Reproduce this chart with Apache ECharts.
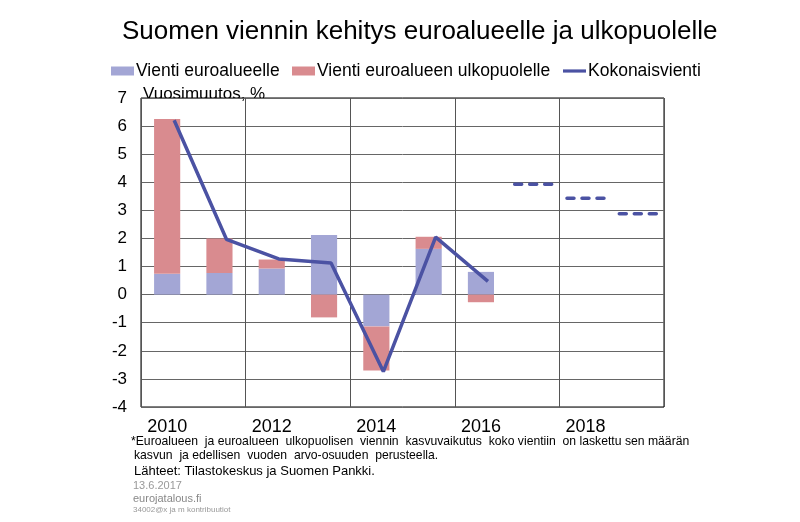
<!DOCTYPE html>
<html>
<head>
<meta charset="utf-8">
<script src="https://cdn.jsdelivr.net/npm/echarts@6/dist/echarts.min.js"></script>
<style>
html,body{margin:0;padding:0;background:#fff;}
#chart{width:800px;height:522px;}
</style>
</head>
<body>
<div id="chart"></div>
<script>
const years = ['2010','2011','2012','2013','2014','2015','2016','2017','2018','2019'];
const euroArea = [0.74, 0.77, 0.93, 2.12, -1.13, 1.63, 0.81, null, null, null];
const outsideEuro = [5.51, 1.23, 0.32, -0.81, -1.57, 0.43, -0.27, null, null, null];
const totalExports = [6.21, 1.97, 1.27, 1.13, -2.74, 2.05, 0.47, null, null, null];
const forecast = [null, null, null, null, null, null, null, 3.93, 3.43, 2.88];
const yMin = -4, yMax = 7, yStep = 1;

const FONT = 'Liberation Sans, Arial, sans-serif';
const forecastData = forecast.map((v, i) => v == null ? null : [i, v]).filter(d => d);

function legendAt(left, item) {
  return {
    left: left, top: 62, padding: 0,
    itemWidth: 23, itemHeight: 9,
    symbolKeepAspect: true,
    textStyle: { fontSize: 17.5, color: '#000', fontFamily: FONT, padding: [0, 0, 0, -3] },
    data: [item]
  };
}

const chart = echarts.init(document.getElementById('chart'));
chart.setOption({
  backgroundColor: '#fff',
  animation: false,
  textStyle: { fontFamily: FONT },
  legend: [
    legendAt(111, { name: 'Vienti euroalueelle', icon: 'rect' }),
    legendAt(292, { name: 'Vienti euroalueen ulkopuolelle', icon: 'rect' }),
    legendAt(563, { name: 'Kokonaisvienti', icon: 'path://M0,0 H23 V3.2 H0 Z', itemStyle: { color: '#4b52a3' } })
  ],
  grid: [
    { left: 141, right: 136, top: 98, bottom: 115, show: true, borderColor: '#000', borderWidth: 1, backgroundColor: 'transparent' },
    { left: 148, right: 129, top: 98, bottom: 115, show: false }
  ],
  xAxis: [
    {
      type: 'category', data: years, gridIndex: 0,
      axisLine: { show: false },
      axisTick: { show: false, interval: 1 },
      axisLabel: { interval: 1, fontSize: 18, color: '#000', margin: 11, fontFamily: FONT },
      splitLine: { show: true, interval: 1, lineStyle: { color: '#555', width: 1 } }
    },
    {
      type: 'category', data: years, gridIndex: 1, show: false
    }
  ],
  yAxis: [
    {
      type: 'value', gridIndex: 0, min: yMin, max: yMax, interval: yStep,
      axisLine: { show: false }, axisTick: { show: false },
      axisLabel: { fontSize: 17, color: '#000', margin: 14, fontFamily: FONT },
      splitLine: { show: true, lineStyle: { color: '#666', width: 1 } }
    },
    { type: 'value', gridIndex: 1, min: yMin, max: yMax, interval: yStep, show: false, splitLine: { show: false } }
  ],
  series: [
    {
      name: 'Vienti euroalueelle', type: 'bar', stack: 'vienti', data: euroArea,
      barWidth: '50%', itemStyle: { color: '#a3a6d5' }
    },
    {
      name: 'Vienti euroalueen ulkopuolelle', type: 'bar', stack: 'vienti', data: outsideEuro,
      barWidth: '50%', itemStyle: { color: '#d98b8f' }
    },
    {
      name: 'Kokonaisvienti', type: 'line', data: totalExports, xAxisIndex: 1, yAxisIndex: 1,
      symbol: 'none', lineStyle: { color: '#4b52a3', width: 3.5 }, itemStyle: { color: '#4b52a3' }, z: 5
    },
    {
      name: 'Ennuste', type: 'custom', data: forecastData, encode: { x: 0, y: 1 }, z: 5,
      renderItem: function (params, api) {
        const p = api.coord([api.value(0), api.value(1)]);
        const w = api.size([1, 0])[0] * 0.71;
        return {
          type: 'line',
          shape: { x1: p[0] - w / 2, y1: p[1], x2: p[0] + w / 2, y2: p[1] },
          style: { stroke: '#4b52a3', lineWidth: 3.5, lineDash: [7, 8], lineCap: 'round' }
        };
      }
    }
  ],
  graphic: [
    { type: 'text', left: 122, top: 19, style: { text: 'Suomen viennin kehitys euroalueelle ja ulkopuolelle', font: '26px ' + FONT, fill: '#000' } },
    { type: 'text', x: 143, y: 94, style: { text: 'Vuosimuutos, %', font: '17px ' + FONT, fill: '#000', verticalAlign: 'middle' } },
    { type: 'text', x: 131, y: 442, style: { text: '*Euroalueen  ja euroalueen  ulkopuolisen  viennin  kasvuvaikutus  koko vientiin  on laskettu sen määrän', font: '12.2px ' + FONT, fill: '#000', verticalAlign: 'middle' } },
    { type: 'text', x: 134, y: 456, style: { text: 'kasvun  ja edellisen  vuoden  arvo-osuuden  perusteella.', font: '12.2px ' + FONT, fill: '#000', verticalAlign: 'middle' } },
    { type: 'text', x: 134, y: 471, style: { text: 'Lähteet: Tilastokeskus ja Suomen Pankki.', font: '13px ' + FONT, fill: '#000', verticalAlign: 'middle' } },
    { type: 'text', x: 133, y: 486, style: { text: '13.6.2017', font: '11px ' + FONT, fill: '#999', verticalAlign: 'middle' } },
    { type: 'text', x: 133, y: 499, style: { text: 'eurojatalous.fi', font: '11px ' + FONT, fill: '#888', verticalAlign: 'middle' } },
    { type: 'text', x: 133, y: 510, style: { text: '34002@x ja m kontribuutiot', font: '8px ' + FONT, fill: '#999', verticalAlign: 'middle' } }
  ]
});
</script>
</body>
</html>
